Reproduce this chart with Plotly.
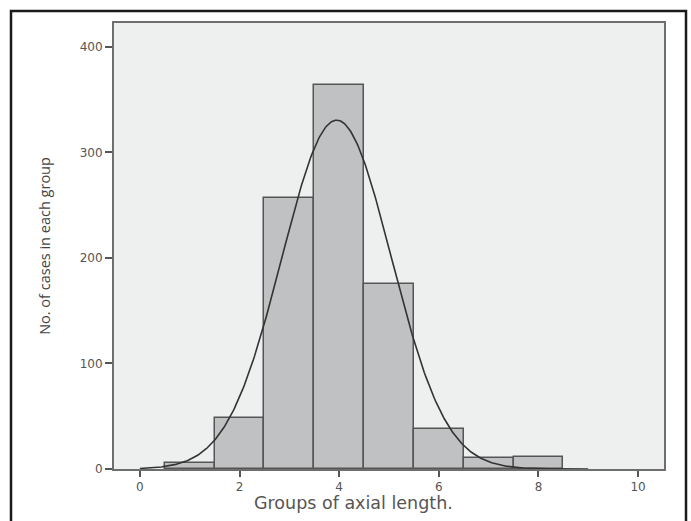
import numpy as np
import plotly.graph_objects as go

# Data
groups = [1, 2, 3, 4, 5, 6, 7, 8]
counts = [6, 48, 257, 364, 175, 38, 10, 11]
x_ticks = [0, 2, 4, 6, 8, 10]
y_ticks = [0, 100, 200, 300, 400]

# Fitted normal curve (as SPSS overlays), from the histogram's own data
g = np.array(groups, dtype=float)
c = np.array(counts, dtype=float)
n = c.sum()
mean = (g * c).sum() / n
sd = np.sqrt((c * (g - mean) ** 2).sum() / (n - 1))
xc = np.linspace(0, 9, 400)
yc = n * 1.0 / (sd * np.sqrt(2 * np.pi)) * np.exp(-0.5 * ((xc - mean) / sd) ** 2)

fig = go.Figure()
fig.add_trace(go.Bar(
    x=groups, y=counts, width=1.0,
    marker=dict(color="#c0c1c3", line=dict(color="#555555", width=1.5)),
    showlegend=False,
))
fig.add_trace(go.Scatter(
    x=xc, y=yc, mode="lines",
    line=dict(color="#333333", width=1.6),
    showlegend=False,
))

L, R, T, B = 114, 27, 23, 52
W, H = 691, 521
pw, ph = W - L - R, H - T - B

fig.update_layout(
    width=W, height=H,
    margin=dict(l=L, r=R, t=T, b=B),
    paper_bgcolor="white",
    plot_bgcolor="#eef0ef",
    bargap=0,
    font=dict(family="DejaVu Sans", color="#555555"),
)
fig.update_xaxes(
    range=[-0.52, 10.52], tickvals=x_ticks, ticktext=[str(v) for v in x_ticks],
    showgrid=False, zeroline=False,
    showline=True, mirror=True, linecolor="#6e6e6e", linewidth=2,
    ticks="outside", ticklen=6, tickwidth=1.5, tickcolor="#555555",
    tickfont=dict(family="DejaVu Sans", size=12, color="#555555"),
)
fig.update_yaxes(
    range=[0, 422.5], tickvals=y_ticks, ticktext=[str(v) for v in y_ticks],
    showgrid=False, zeroline=False,
    showline=True, mirror=True, linecolor="#6e6e6e", linewidth=2,
    ticks="outside", ticklen=7, tickwidth=1.5, tickcolor="#555555",
    tickfont=dict(family="DejaVu Sans", size=12, color="#555555"),
    title=dict(text="No. of cases in each group", font=dict(family="Open Sans", size=14.5, color="#444444"), standoff=26),
)

# X-axis title, placed where the original has it (slightly left of centre)
fig.add_annotation(
    text="Groups of axial length.", xref="paper", yref="paper",
    x=(353 - L) / pw, y=(H - B - 503) / ph, xanchor="center", yanchor="middle",
    showarrow=False, font=dict(family="DejaVu Sans", size=17.5, color="#555555"),
)

# Outer black frame of the figure
fig.add_shape(
    type="rect", xref="paper", yref="paper",
    x0=(11 - L) / pw, x1=(686 - L) / pw,
    y0=(H - B - 540) / ph, y1=(H - B - 11) / ph,
    line=dict(color="#1a1a1a", width=2.5), fillcolor="rgba(0,0,0,0)",
    layer="below",
)

fig.write_html("out.html")
